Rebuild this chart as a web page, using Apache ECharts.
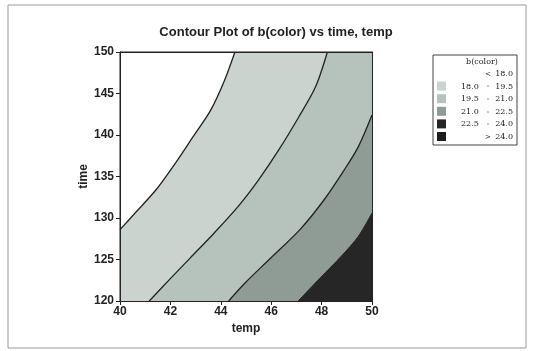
<!DOCTYPE html>
<html><head><meta charset="utf-8">
<script src="https://cdn.jsdelivr.net/npm/echarts@6/dist/echarts.min.js"></script>
<style>html,body{margin:0;padding:0;background:#fafafa;}#c{width:534px;height:351px;}</style>
</head><body><div id="c"></div>
<script>
// contour lines of b(color): [temp, time]
const c180 = [[40,128.6],[40.6,130.6],[41.43,133.4],[42.24,136.8],[42.9,139.8],[43.6,143],[44.15,146.6],[44.56,150]];
const c195 = [[41.16,120],[41.97,122.6],[42.79,125.2],[43.74,128.2],[44.69,131.4],[45.5,134.6],[46.3,138.2],[47.1,142.2],[47.76,145.8],[48.23,150]];
const c210 = [[44.31,120],[44.97,122.2],[45.92,125],[47.14,128.6],[48.1,132.2],[48.9,135.8],[49.46,138.6],[50,142.4]];
const c225 = [[47.07,120],[47.95,122.8],[48.78,125.4],[49.46,127.8],[50,130.6]];
const xTicks = [40,42,44,46,48,50];
const yTicks = [120,125,130,135,140,145,150];
const legendTitle = 'b(color)';
const legendSep = ['<','-','-','-','-','>'];
const legendLow = ['','18.0','19.5','21.0','22.5',''];
const legendHigh = ['18.0','19.5','21.0','22.5','24.0','24.0'];
const bandColors = ['#ffffff','#cad3ce','#b6c2bc','#8f9c96','#262626','#1c1c1c'];

const chart = echarts.init(document.getElementById('c'));
function fillSeries(pts, color, lineColor, lw){
  const out = [{type:'line', data: pts, smooth:0.3, symbol:'none', silent:true, z:3,
    lineStyle:{color:lineColor, width:lw}, areaStyle:{color:color, opacity:1, origin:'start'}}];
  const last = pts[pts.length-1];
  if (last[1] >= 150 && last[0] < 50) {
    out.unshift({type:'line', data:[[last[0]-0.04,150],[50,150]], symbol:'none', silent:true, z:2,
      lineStyle:{width:0}, areaStyle:{color:color, opacity:1, origin:'start'}});
  }
  return out;
}
const legendGraphics = [];
const LX = 433, LY = 55;
legendGraphics.push({type:'rect', shape:{x:LX,y:LY,width:84,height:90}, style:{fill:'#fff',stroke:'#444',lineWidth:1}});
legendGraphics.push({type:'text', x:LX+49, y:LY+7, style:{text:legendTitle, font:'8px "DejaVu Serif"', fill:'#222', align:'center', verticalAlign:'middle'}});
for(let i=0;i<legendSep.length;i++){
  const y = LY+19+i*12.6;
  if(i>0) legendGraphics.push({type:'rect', shape:{x:LX+4,y:y-5,width:9,height:9}, style:{fill:bandColors[i]}});
  if(legendLow[i]) legendGraphics.push({type:'text', x:LX+28, y:y, style:{text:legendLow[i], font:'8px "DejaVu Serif"', fill:'#222', align:'left', verticalAlign:'middle'}});
  legendGraphics.push({type:'text', x:LX+55, y:y, style:{text:legendSep[i], font:'7px "DejaVu Sans"', fill:'#222', align:'center', verticalAlign:'middle'}});
  legendGraphics.push({type:'text', x:LX+80, y:y, style:{text:legendHigh[i], font:'8px "DejaVu Serif"', fill:'#222', align:'right', verticalAlign:'middle'}});
}
legendGraphics.push({type:'rect', shape:{x:8,y:5,width:518,height:343}, style:{fill:'none',stroke:'#999',lineWidth:1}, z:-1});

const lbl = {color:'#222', fontFamily:'Liberation Sans', fontWeight:'bold', fontSize:12};
chart.setOption({
  animation:false,
  backgroundColor:'#ffffff',
  title:{text:'Contour Plot of b(color) vs time, temp', left:271, textAlign:'center', top:21,
    textStyle:{fontFamily:'Liberation Sans', fontWeight:'bold', fontSize:13, color:'#222'}},
  grid:{left:120, right:162, top:52, bottom:50, show:true, backgroundColor:'#ffffff', borderColor:'#222', borderWidth:1},
  xAxis:[{type:'value', min:40, max:50, interval:2, name:'temp', nameLocation:'middle', nameGap:22,
    nameTextStyle:lbl, axisLabel:Object.assign({margin:5}, lbl),
    axisLine:{lineStyle:{color:'#222'}}, axisTick:{length:4, lineStyle:{color:'#222'}}, splitLine:{show:false}, z:10},
    {type:'value', position:'top', min:40, max:50, axisLabel:{show:false}, axisTick:{show:false}, splitLine:{show:false}, axisLine:{show:true,lineStyle:{color:'#222'}}, z:10}],
  yAxis:[{type:'value', min:120, max:150, interval:5, name:'time', nameLocation:'middle', nameGap:30,
    nameTextStyle:lbl, axisLabel:Object.assign({margin:6}, lbl),
    axisLine:{show:true,lineStyle:{color:'#222'}}, axisTick:{show:true,length:4, lineStyle:{color:'#222'}}, splitLine:{show:false}, z:10},
    {type:'value', position:'right', min:120, max:150, axisLabel:{show:false}, axisTick:{show:false}, splitLine:{show:false}, axisLine:{show:true,lineStyle:{color:'#222'}}, z:10}],
  series: [].concat(
    fillSeries(c180, bandColors[1], '#222', 1.3),
    fillSeries(c195, bandColors[2], '#222', 1.3),
    fillSeries(c210, bandColors[3], '#222', 1.3),
    fillSeries(c225, bandColors[4], '#262626', 1)
  ),
  graphic: legendGraphics
});
</script></body></html>
